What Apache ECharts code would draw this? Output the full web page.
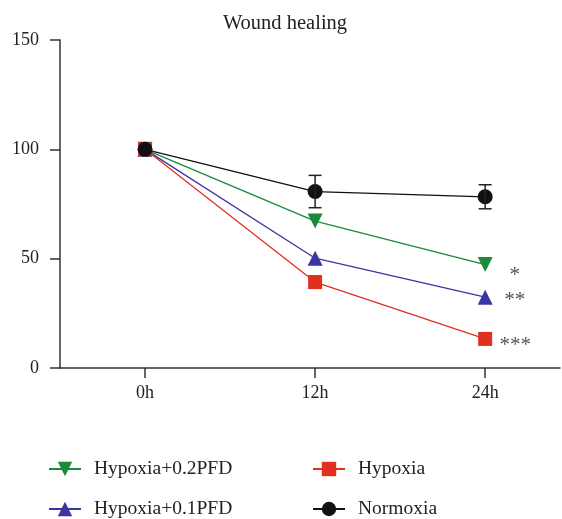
<!DOCTYPE html>
<html>
<head>
<meta charset="utf-8">
<script src="https://cdn.jsdelivr.net/npm/echarts@6/dist/echarts.min.js"></script>
<style>html,body{margin:0;padding:0;background:#fff}#c{width:562px;height:519px}</style>
</head>
<body>
<div id="c"></div>
<script>
const categories = ['0h', '12h', '24h'];
const xPos = [0, 1, 2];
const yTicks = [0, 50, 100, 150];
const normoxia = [100, 80.7, 78.3];
const normoxiaErr = [0, 7.4, 5.5];
const pfd02 = [100, 67.2, 47.3];
const pfd01 = [100, 50.2, 32.4];
const hypoxia = [100, 39.3, 13.3];
const sigPfd02 = '*';
const sigPfd01 = '**';
const sigHypoxia = '***';

const FONT = 'Liberation Serif';
const chart = echarts.init(document.getElementById('c'), null, {renderer: 'canvas'});

function pts(arr) { return arr.map((v, i) => [xPos[i], v]); }
function withSig(arr, sig, dy) {
  const d = pts(arr);
  const last = d.length - 1;
  d[last] = {value: d[last], label: {show: true, formatter: sig, position: [37, 7 + dy], align: 'center', verticalAlign: 'middle',
    fontFamily: FONT, fontSize: 21, color: '#555'}};
  return d;
}

const colGreen = '#1a8a3c', colBlue = '#3b35a3', colRed = '#e0301f', colBlack = '#111';
const legendText = {fontFamily: FONT, fontSize: 19.5, color: '#222', padding: [0, 0, 0, 8], lineHeight: 20};

const option = {
  animation: false,
  backgroundColor: '#fff',
  title: {text: 'Wound healing', left: 280, top: 8, textAlign: 'center',
    textStyle: {fontFamily: FONT, fontSize: 20.5, fontWeight: 'normal', color: '#222'}},
  grid: {left: 60, right: 2, top: 40, bottom: 151},
  xAxis: {
    type: 'value', min: -0.5, max: 2.44,
    splitLine: {show: false},
    axisLine: {show: true, onZero: false, lineStyle: {color: '#333', width: 1.5}},
    axisTick: {show: true, customValues: xPos, length: 10, lineStyle: {color: '#333', width: 1.5}},
    axisLabel: {customValues: xPos, formatter: v => categories[Math.round(v)], margin: 16,
      fontFamily: FONT, fontSize: 18, color: '#222'}
  },
  yAxis: {
    type: 'value', min: 0, max: 150, interval: 50,
    splitLine: {show: false},
    axisLine: {show: true, onZero: false, lineStyle: {color: '#333', width: 1.5}},
    axisTick: {show: true, length: 10, lineStyle: {color: '#333', width: 1.5}},
    axisLabel: {customValues: yTicks, margin: 21, fontFamily: FONT, fontSize: 18, color: '#222'}
  },
  legend: [
    {data: ['Hypoxia+0.2PFD', 'Hypoxia+0.1PFD'], orient: 'vertical', left: 48, top: 459, height: 60, padding: 0,
      itemWidth: 32, itemHeight: 18, itemGap: 20, textStyle: legendText},
    {data: ['Hypoxia', 'Normoxia'], orient: 'vertical', left: 312, top: 459, height: 60, padding: 0,
      itemWidth: 32, itemHeight: 18, itemGap: 20, textStyle: legendText}
  ],
  series: [
    {name: 'Hypoxia+0.2PFD', type: 'line', data: withSig(pfd02, sigPfd02, 11),
      symbol: 'triangle', symbolRotate: 180, symbolSize: 15,
      itemStyle: {color: colGreen}, lineStyle: {color: colGreen, width: 1.3}},
    {name: 'Hypoxia+0.1PFD', type: 'line', data: withSig(pfd01, sigPfd01, 4),
      symbol: 'triangle', symbolSize: 15,
      itemStyle: {color: colBlue}, lineStyle: {color: colBlue, width: 1.3}},
    {name: 'Hypoxia', type: 'line', data: withSig(hypoxia, sigHypoxia, 7),
      symbol: 'rect', symbolSize: 14,
      itemStyle: {color: colRed}, lineStyle: {color: colRed, width: 1.3}},
    {name: 'Normoxia', type: 'line', data: pts(normoxia),
      symbol: 'circle', symbolSize: 15,
      itemStyle: {color: colBlack}, lineStyle: {color: colBlack, width: 1.3}},
    {name: 'err', type: 'custom', z: 5,
      data: normoxia.map((v, i) => [xPos[i], v, normoxiaErr[i]]).filter(d => d[2] > 0),
      renderItem: function (params, api) {
        const x = api.value(0), y = api.value(1), e = api.value(2);
        const t = api.coord([x, y + e]), b = api.coord([x, y - e]);
        const hw = 6.5;
        const st = {stroke: '#222', lineWidth: 1.5};
        return {type: 'group', children: [
          {type: 'line', shape: {x1: t[0], y1: t[1], x2: b[0], y2: b[1]}, style: st},
          {type: 'line', shape: {x1: t[0] - hw, y1: t[1], x2: t[0] + hw, y2: t[1]}, style: st},
          {type: 'line', shape: {x1: b[0] - hw, y1: b[1], x2: b[0] + hw, y2: b[1]}, style: st}
        ]};
      }}
  ]
};
chart.setOption(option);
</script>
</body>
</html>
